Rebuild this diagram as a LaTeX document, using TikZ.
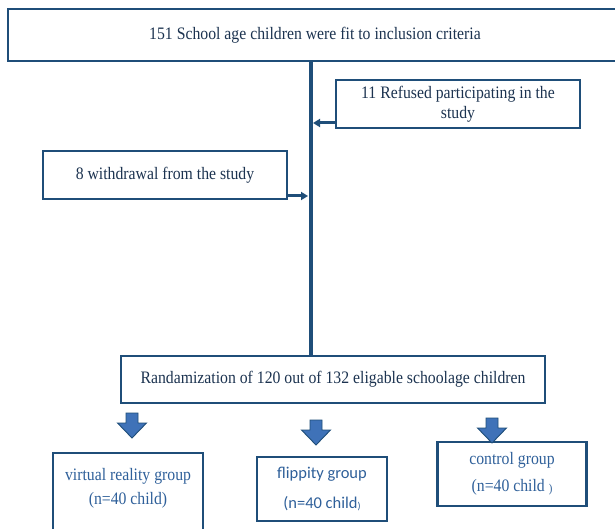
\documentclass[tikz,border=0pt]{standalone}
\usepackage{fontspec}
\setmainfont{Liberation Serif}[FakeStretch=0.9]
\newfontfamily\calib{Carlito}
\usetikzlibrary{arrows.meta,calc}
\definecolor{navy}{HTML}{1F4E79}
\definecolor{txtdark}{HTML}{1C3350}
\definecolor{txtblue}{HTML}{2F609A}
\definecolor{arrfill}{HTML}{3F72B8}
\begin{document}
\begin{tikzpicture}[x=1pt,y=-1pt,
  box/.style={draw=navy, line width=2.7pt, fill=white, inner sep=0pt, align=center, text=txtdark,
    font=\fontsize{17.5}{20}\selectfont},
  lowbox/.style={box, text=txtblue},
  conn/.style={draw=navy, line width=4.2pt},
  arr/.style={draw=navy, line width=3pt, -{Triangle[length=7pt,width=8pt]}},
  lbl/.style={inner sep=0pt, align=center, text=txtblue},
  bdown/.pic={\filldraw[fill=arrfill, draw=navy, line width=0.9pt, line join=miter]
    (-6,0) -- (6,0) -- (6,10) -- (14.5,10) -- (0,25) -- (-14.5,10) -- (-6,10) -- cycle;}]
\useasboundingbox (0,0) rectangle (615,529);
\clip (0,0) rectangle (615,529);
\fill[white] (0,0) rectangle (615,529);

% boxes
\node[box, minimum width=614pt, minimum height=52pt] (top) at (315,35)
  {151 School age children were fit to inclusion criteria};
\node[box, minimum width=244pt, minimum height=48pt] (ref) at (458,104)
  {11 Refused participating in the\\study};
\node[box, minimum width=244pt, minimum height=48pt] (wd) at (165,175)
  {8 withdrawal from the study};
\node[box, minimum width=424pt, minimum height=47pt] (rand) at (333,379.5)
  {Randamization of 120 out of 132 eligable schoolage children};

\node[lowbox, minimum width=150pt, minimum height=82pt] (vr) at (128,494) {};
\node[lbl, font=\fontsize{17.5}{24}\selectfont] (vrt) at (128,488.5)
  {virtual reality group\\(n=40 child)};
\node[lowbox, minimum width=130pt, minimum height=64pt,
  font=\calib\fontsize{16.5}{30}\selectfont] (fl) at (322,489)
  {flippity group\\(n=40 child\raisebox{-1.5pt}{\fontsize{10}{10}\selectfont)}};
\node[lowbox, minimum width=149pt, minimum height=64pt,
  font=\fontsize{17.5}{27}\selectfont] (ctl) at (512,474)
  {control group\\(n=40 child \raisebox{-1pt}{\fontsize{12}{12}\selectfont)}};

% connectors
\coordinate (vx) at (311,0);
\coordinate (rin) at (313,123);
\coordinate (win) at (308,196);
\draw[conn] (top.south -| vx) -- (rand.north -| vx);
\draw[arr] (ref.west |- rin) -- (rin);
\draw[arr] (wd.east |- win) -- (win);

% block arrows
\pic at (132,413) {bdown};
\pic at (316,420) {bdown};
\pic at (492,418) {bdown};
\end{tikzpicture}
\end{document}
